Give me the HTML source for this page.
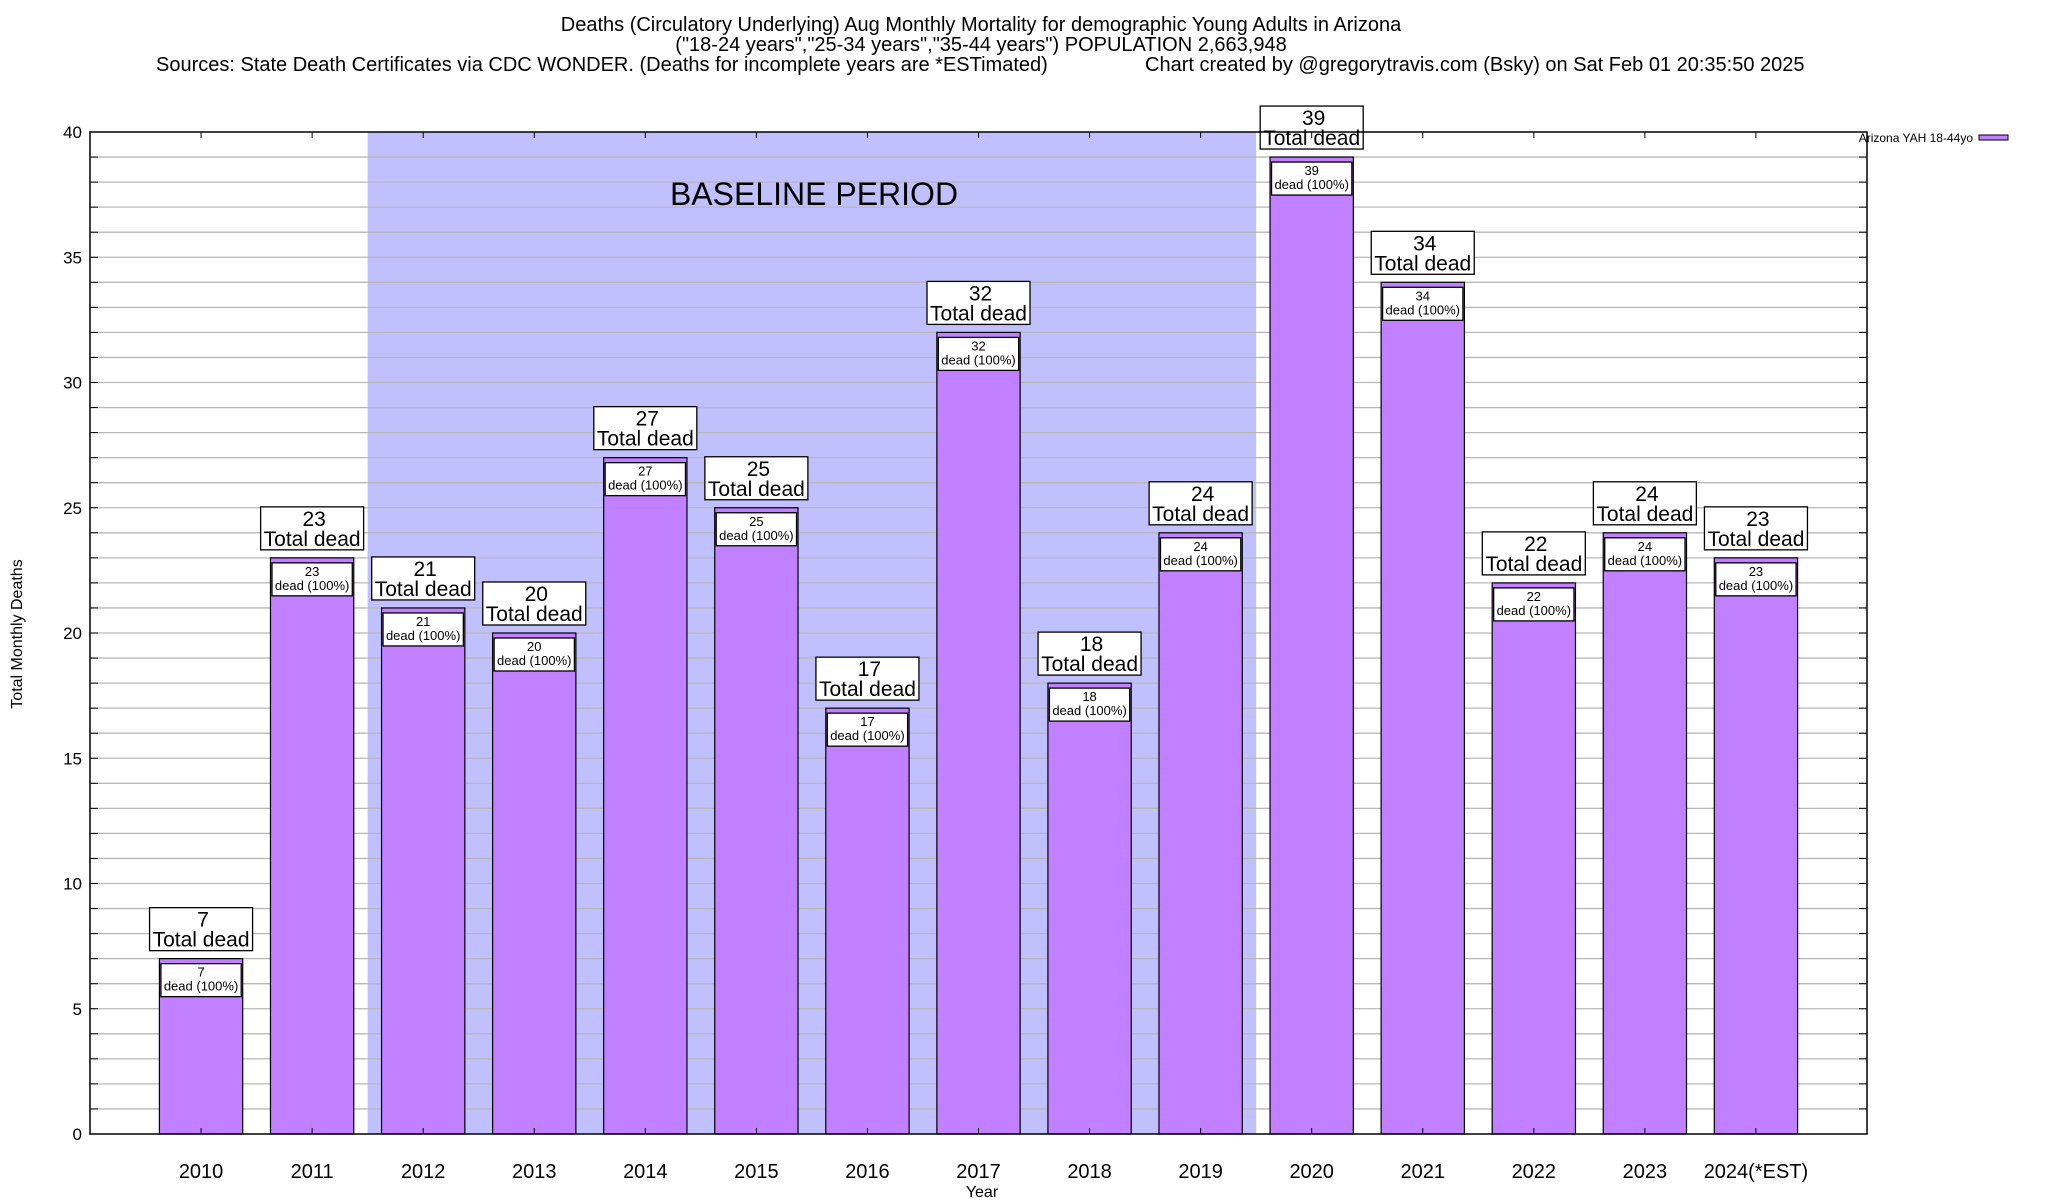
<!DOCTYPE html>
<html><head><meta charset="utf-8"><style>
html,body{margin:0;padding:0;background:#fff;}
svg{display:block;font-family:"Liberation Sans",sans-serif;}
</style></head><body>
<svg id="chart" width="2048" height="1200" viewBox="0 0 2048 1200">
<g font-size="20" fill="#000">
<text x="981" y="31" text-anchor="middle">Deaths (Circulatory Underlying) Aug Monthly Mortality for demographic Young Adults in Arizona</text>
<text x="981" y="51" text-anchor="middle">("18-24 years","25-34 years","35-44 years") POPULATION 2,663,948</text>
<text x="156" y="71">Sources: State Death Certificates via CDC WONDER. (Deaths for incomplete years are *ESTimated)</text>
<text x="1145" y="71">Chart created by @gregorytravis.com (Bsky) on Sat Feb 01 20:35:50 2025</text>
</g>
<g id="plot"></g>
</svg>
<script>
const categories = ["2010","2011","2012","2013","2014","2015","2016","2017","2018","2019","2020","2021","2022","2023","2024(*EST)"];
const deaths = [7,23,21,20,27,25,17,32,18,24,39,34,22,24,23];
const yTicks = [0,5,10,15,20,25,30,35,40];
const baselineStart = 2.5, baselineEnd = 10.5;

const L=90,R=1867,T=132,B=1134,yMax=40,xMax=16;
const xs = v => L + v*(R-L)/xMax;
const ys = v => B - v*(B-T)/yMax;
const NS="http://www.w3.org/2000/svg";
const g=document.getElementById('plot');
function mk(tag,attrs,parent,text){const e=document.createElementNS(NS,tag);for(const k in attrs)e.setAttribute(k,attrs[k]);if(text!==undefined)e.textContent=text;(parent||g).appendChild(e);return e;}

const sh=mk('rect',{x:xs(baselineStart),y:T,width:xs(baselineEnd)-xs(baselineStart),height:B-T,fill:'#c0c0ff'});


for(let v=1;v<yMax;v++){
  const l=mk('line',{x1:L,x2:R,y1:ys(v),y2:ys(v),stroke:'#b8b8b8','stroke-width':1.3});
  
  
  mk('line',{x1:L,x2:L+8,y1:ys(v),y2:ys(v),stroke:'#000','stroke-width':1});
  mk('line',{x1:R-8,x2:R,y1:ys(v),y2:ys(v),stroke:'#000','stroke-width':1});
}
const bt=mk('text',{x:814,y:205,'font-size':32,'text-anchor':'middle'},g,'BASELINE PERIOD');


yTicks.forEach(v=>{
  const t=mk('text',{x:L-8,y:ys(v)+6,'font-size':17,'text-anchor':'end'},g,String(v));
  
  
});
const bw=(R-L)/xMax*0.75;
categories.forEach((c,i)=>{
  const cx=xs(i+1), v=deaths[i], top=ys(v);
  const bar=mk('rect',{x:cx-bw/2,y:top,width:bw,height:B-top,fill:'#c080ff',stroke:'#000','stroke-width':1.2});
  
  
  const ib=mk('rect',{x:cx-bw/2+1.5,y:top+5,width:bw-3,height:33,fill:'#fff',stroke:'#000','stroke-width':1.3});
  
  
  mk('text',{x:cx,y:top+18,'font-size':13,'text-anchor':'middle'},g,String(v));
  mk('text',{x:cx,y:top+32,'font-size':13,'text-anchor':'middle'},g,'dead (100%)');
  const tb=mk('rect',{x:cx-51.5,y:top-51,width:103,height:43,fill:'#fff',stroke:'#000','stroke-width':1.3});
  
  
  mk('text',{x:cx+2,y:top-32,'font-size':21,'text-anchor':'middle'},g,String(v));
  mk('text',{x:cx,y:top-12,'font-size':21,'text-anchor':'middle'},g,'Total dead');
  const xl=mk('text',{x:cx,y:1178,'font-size':20,'text-anchor':'middle'},g,c);
  
  
  mk('line',{x1:cx,x2:cx,y1:T,y2:T+6,stroke:'#000','stroke-width':1});
  mk('line',{x1:cx,x2:cx,y1:B,y2:B-6,stroke:'#000','stroke-width':1});
});
const fr=mk('rect',{x:L,y:T,width:R-L,height:B-T,fill:'none',stroke:'#000','stroke-width':1.5});


const xt=mk('text',{x:982,y:1197,'font-size':16,'text-anchor':'middle'},g,'Year');


const yt=mk('text',{x:0,y:0,'font-size':16,'text-anchor':'middle',transform:'translate(22,634) rotate(-90)'},g,'Total Monthly Deaths');


const lt=mk('text',{x:1973,y:142,'font-size':12,'text-anchor':'end'},g,'Arizona YAH 18-44yo');


const ls=mk('rect',{x:1979,y:135,width:29,height:5,fill:'#c080ff',stroke:'#000','stroke-width':1});


</script>
</body></html>
